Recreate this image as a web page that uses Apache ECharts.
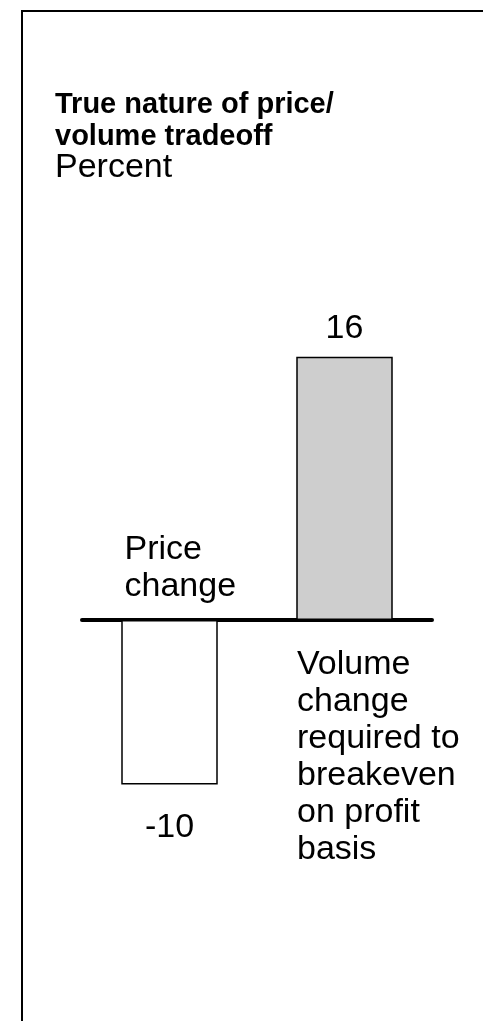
<!DOCTYPE html>
<html>
<head>
<meta charset="utf-8">
<script src="https://cdn.jsdelivr.net/npm/echarts@6/dist/echarts.min.js"></script>
<style>
  html, body { margin: 0; padding: 0; background: #fff; }
  #chart { width: 483px; height: 1021px; }
</style>
</head>
<body>
<div id="chart"></div>
<script>
// Price change vs. the volume change needed to break even, in percent
const categories = ['Price\nchange', 'Volume\nchange\nrequired to\nbreakeven\non profit\nbasis'];
const values = [-10, 16];
const fills = ['#ffffff', '#cecece'];

const FONT = "'Liberation Sans', Arial, sans-serif";

const chart = echarts.init(document.getElementById('chart'), null, { renderer: 'canvas' });

chart.setOption({
  animation: false,
  backgroundColor: '#ffffff',
  title: {
    text: 'True nature of price/\nvolume tradeoff',
    subtext: 'Percent',
    left: 55,
    top: 89,
    itemGap: -1,
    padding: 0,
    textStyle: { fontFamily: FONT, fontSize: 29, fontWeight: 'bold', color: '#000', lineHeight: 32 },
    subtextStyle: { fontFamily: FONT, fontSize: 34, color: '#000', lineHeight: 32 }
  },
  graphic: [{
    // frame around the panel (left and top edges visible)
    type: 'rect',
    silent: true,
    shape: { x: 22, y: 11, width: 600, height: 1200 },
    style: { fill: 'none', stroke: '#000', lineWidth: 2 }
  }],
  grid: { left: 82, right: 51, top: 126.5, height: 822.5 },
  xAxis: {
    type: 'category',
    data: categories,
    axisLine: { onZero: true, lineStyle: { color: '#000', width: 4, cap: 'round' } },
    axisTick: { show: false },
    axisLabel: { show: false },
    splitLine: { show: false }
  },
  yAxis: {
    type: 'value',
    min: -20,
    max: 30,
    show: false,
    splitLine: { show: false }
  },
  series: [
    {
      type: 'bar',
      barWidth: 96.5,
      data: values.map((v, i) => ({
        value: v,
        itemStyle: { color: fills[i], borderColor: '#000', borderWidth: 1.5 },
        label: v < 0 ? { position: 'bottom', distance: 25 } : { position: 'top', distance: 10 }
      })),
      label: {
        show: true,
        fontFamily: FONT,
        fontSize: 34,
        lineHeight: 37,
        color: '#000',
        formatter: '{c}'
      }
    },
    {
      // category names placed beside the zero line
      type: 'scatter',
      symbolSize: 0,
      silent: true,
      z: 5,
      itemStyle: { opacity: 1 },
      data: categories.map((c, i) => ({
        value: [i, 0],
        label: values[i] < 0
          ? { position: 'top', distance: 14.5, align: 'left', offset: [-45, 0] }
          : { position: 'bottom', distance: 26, align: 'left', offset: [-47.5, 0] }
      })),
      label: {
        show: true,
        opacity: 1,
        fontFamily: FONT,
        fontSize: 34,
        lineHeight: 37,
        color: '#000',
        formatter: (p) => categories[p.dataIndex]
      }
    }
  ]
});
</script>
</body>
</html>
